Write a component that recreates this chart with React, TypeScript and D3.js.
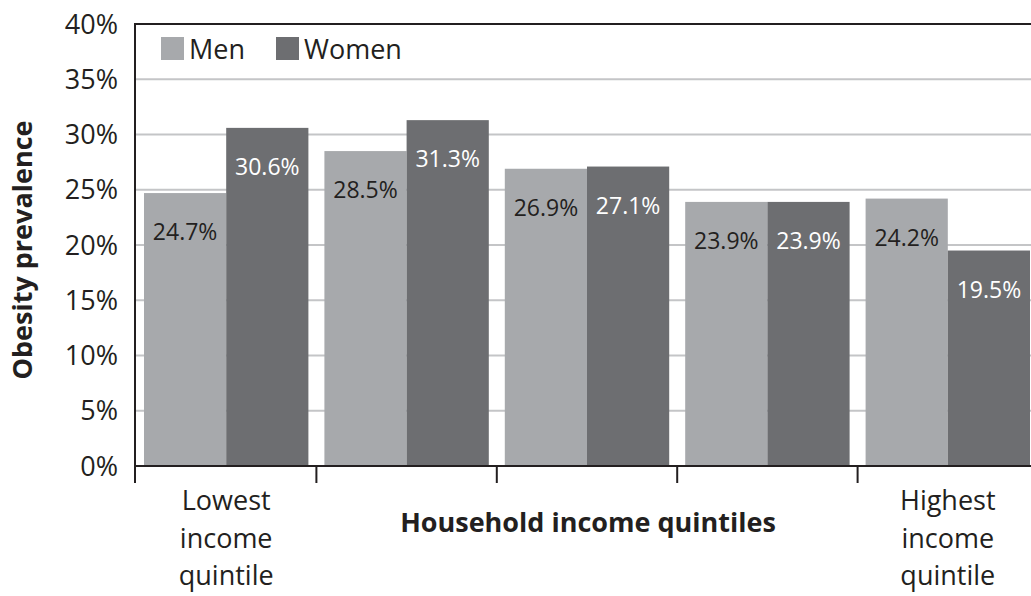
import React from "react";
import * as d3 from "d3";

const categories = ["Q1", "Q2", "Q3", "Q4", "Q5"];
const categoryLabels = [["Lowest", "income", "quintile"], [], [], [], ["Highest", "income", "quintile"]];
const series = ["Men", "Women"];
const menValues = [24.7, 28.5, 26.9, 23.9, 24.2];
const womenValues = [30.6, 31.3, 27.1, 23.9, 19.5];
const yTicks = [0, 5, 10, 15, 20, 25, 30, 35, 40];

const W = 1031;
const H = 596;
const FONT = "'Open Sans', 'Noto Sans', sans-serif";
const TEXT = "#231f20";
const COLORS: Record<string, string> = { Men: "#a7a9ac", Women: "#6d6e71" };
const LABEL_COLORS: Record<string, string> = { Men: "#231f20", Women: "#ffffff" };

export default function App() {
  const left = 136;
  const right = 1038;
  const top = 24;
  const bottom = 466;
  const y = d3.scaleLinear().domain([0, 40]).range([bottom, top]);
  const x = d3.scaleBand().domain(categories).range([left, right]);
  const inner = d3.scaleBand().domain(series).range([8, x.bandwidth() - 8]);
  const values: Record<string, number[]> = { Men: menValues, Women: womenValues };

  return (
    <svg width={W} height={H} style={{ position: "absolute", left: 0, top: 0, background: "#fff" }}>
      {yTicks.slice(1, -1).map((t) => (
        <line key={t} x1={left} x2={right} y1={y(t)} y2={y(t)} stroke="#c4c5c7" strokeWidth={2} />
      ))}
      {series.map((s) =>
        categories.map((c, i) => {
          const v = values[s][i];
          const bx = (x(c) as number) + (inner(s) as number);
          return (
            <rect key={s + c} x={bx} y={y(v)} width={inner.bandwidth()} height={bottom - y(v)} fill={COLORS[s]} />
          );
        })
      )}
      {series.map((s) =>
        categories.map((c, i) => {
          const v = values[s][i];
          const bx = (x(c) as number) + (inner(s) as number) + inner.bandwidth() / 2;
          return (
            <text key={"l" + s + c} x={bx} y={y(v) + 47} textAnchor="middle" fontFamily={FONT} fontSize={23} fill={LABEL_COLORS[s]}>
              {v.toFixed(1) + "%"}
            </text>
          );
        })
      )}
      <line x1={left - 1} x2={right} y1={top} y2={top} stroke={TEXT} strokeWidth={2} />
      <line x1={left - 1} x2={left - 1} y1={top - 1} y2={bottom + 17} stroke={TEXT} strokeWidth={2} />
      <line x1={left - 2} x2={right} y1={bottom} y2={bottom} stroke={TEXT} strokeWidth={2} />
      {categories.slice(1).map((c) => (
        <line key={"t" + c} x1={x(c)} x2={x(c)} y1={bottom} y2={bottom + 17} stroke={TEXT} strokeWidth={2} />
      ))}
      {yTicks.map((t) => (
        <text key={"y" + t} x={118} y={y(t)} dy="0.36em" textAnchor="end" fontFamily={FONT} fontSize={27} fill={TEXT}>
          {t + "%"}
        </text>
      ))}
      {categories.map((c, i) =>
        categoryLabels[i].map((ln, j) => (
          <text key={"c" + c + j} x={(x(c) as number) + x.bandwidth() / 2} y={510 + j * 37.5} textAnchor="middle" fontFamily={FONT} fontSize={27} fill={TEXT}>
            {ln}
          </text>
        ))
      )}
      <text x={588} y={532} textAnchor="middle" fontFamily={FONT} fontWeight="bold" fontSize={27} fill={TEXT}>
        Household income quintiles
      </text>
      <text transform="translate(32,250) rotate(-90)" textAnchor="middle" fontFamily={FONT} fontWeight="bold" fontSize={27} fill={TEXT}>
        Obesity prevalence
      </text>
      {series.map((s, i) => {
        const lx = [161, 276][i];
        return (
          <g key={"lg" + s}>
            <rect x={lx} y={37} width={23} height={23} fill={COLORS[s]} />
            <text x={lx + 28} y={59} fontFamily={FONT} fontSize={27} fill={TEXT}>
              {s}
            </text>
          </g>
        );
      })}
    </svg>
  );
}
